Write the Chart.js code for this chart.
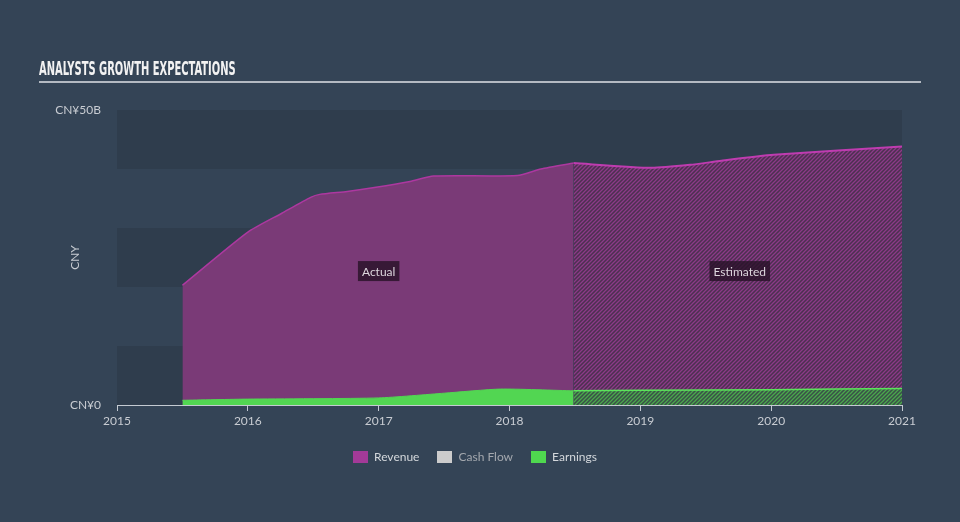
<!DOCTYPE html>
<html>
<head>
<meta charset="utf-8">
<script src="https://cdn.jsdelivr.net/npm/chart.js@4"></script>
<style>
  html, body { margin: 0; padding: 0; background: #344456; width: 960px; height: 522px; overflow: hidden; }
  #title { position: absolute; left: 39px; top: 57px; color: #f2f2f2; font-family: "Liberation Sans Narrow", "DejaVu Sans Condensed", sans-serif; font-weight: bold; font-size: 19px; white-space: nowrap; transform-origin: 0 0; }
  #rule { position: absolute; left: 39px; top: 81px; width: 882px; height: 2px; background: #b4bac2; }
  #wrap { position: absolute; left: 0; top: 0; width: 960px; height: 522px; }
  #legend { position: absolute; top: 449px; left: -5px; width: 960px; text-align: center; font-family: Lato, "DejaVu Sans", sans-serif; font-size: 12px; }
  .item { display: inline-block; margin: 0 9px; line-height: 14px; }
  .box { display: inline-block; width: 15px; height: 12px; vertical-align: -2px; margin-right: 6px; }
</style>
</head>
<body>
<div id="wrap"><canvas id="chart" width="960" height="522"></canvas></div>
<div id="title">ANALYSTS GROWTH EXPECTATIONS</div>
<div id="rule"></div>
<div id="legend"></div>
<script>
// values in CNY billions, x is fractional year
const revenueYears = [2015.5, 2016.0, 2016.26, 2016.48, 2016.55, 2016.76, 2016.98, 2017.24, 2017.42, 2018.06, 2018.24, 2018.49, 2019.08, 2019.38, 2019.62, 2020.02, 2021.0];
const revenueValues = [20.3, 29.3, 32.5, 35.2, 35.7, 36.2, 36.9, 37.9, 38.8, 38.9, 40.0, 41.0, 40.2, 40.7, 41.4, 42.4, 43.8];
const earningsYears = [2015.5, 2016.0, 2017.0, 2017.5, 2017.93, 2018.49, 2019.0, 2020.0, 2021.0];
const earningsValues = [0.8, 1.0, 1.2, 2.0, 2.7, 2.4, 2.5, 2.6, 2.8];
const forecastStart = 2018.49;
const yearTicks = [2015, 2016, 2017, 2018, 2019, 2020, 2021];
const seriesNames = ["Revenue", "Cash Flow", "Earnings"];
const seriesColors = ["#a33a98", "#cccccc", "#4fd84f"];

// squeeze the title into the condensed look
const t = document.getElementById("title");
t.style.transform = "scaleX(" + (197 / t.offsetWidth) + ")";

// legend
const legendColors = ["#d4d8dc", "#a4a8ae", "#d4d8dc"];
document.getElementById("legend").innerHTML = seriesNames.map((n, i) =>
  '<span class="item" style="color:' + legendColors[i] + '"><span class="box" style="background:' + seriesColors[i] + '"></span>' + n + '</span>'
).join("");

function points(xs, ys, keep) {
  const out = [];
  xs.forEach((x, i) => { if (keep(x)) out.push({ x: x, y: ys[i] }); });
  return out;
}

function hatch(bg, fg) {
  const c = document.createElement("canvas");
  c.width = 4; c.height = 4;
  const g = c.getContext("2d");
  g.fillStyle = bg;
  g.fillRect(0, 0, 4, 4);
  g.strokeStyle = fg;
  g.lineWidth = 1.3;
  g.beginPath();
  g.moveTo(0, 4); g.lineTo(4, 0);
  g.moveTo(-1, 1); g.lineTo(1, -1);
  g.moveTo(3, 5); g.lineTo(5, 3);
  g.stroke();
  return g.createPattern(c, "repeat");
}

const bandPlugin = {
  id: "bands",
  beforeDraw(chart) {
    const { ctx, chartArea, scales } = chart;
    ctx.save();
    ctx.fillStyle = "#2f3d4d";
    [[0, 10], [20, 30], [40, 50]].forEach(b => {
      const y1 = scales.y.getPixelForValue(b[1]);
      const y0 = scales.y.getPixelForValue(b[0]);
      ctx.fillRect(chartArea.left, y1, chartArea.right - chartArea.left, y0 - y1);
    });
    ctx.restore();
  }
};

const tagPlugin = {
  id: "tags",
  afterDatasetsDraw(chart) {
    const { ctx, scales } = chart;
    ctx.save();
    ctx.font = "12px Lato, 'DejaVu Sans', sans-serif";
    ctx.textAlign = "center";
    ctx.textBaseline = "middle";
    [["Actual", 2017.0], ["Estimated", 2019.76]].forEach(a => {
      const x = scales.x.getPixelForValue(a[1]);
      const y = scales.y.getPixelForValue(22.7);
      const w = ctx.measureText(a[0]).width + 8;
      ctx.fillStyle = "rgba(40,18,40,0.82)";
      ctx.fillRect(x - w / 2, y - 10, w, 20);
      ctx.fillStyle = "#ddd6dd";
      ctx.fillText(a[0], x, y + 1);
    });
    ctx.restore();
  }
};

const tickFont = { family: "Lato, 'DejaVu Sans', sans-serif", size: 12 };

const ctx = document.getElementById("chart").getContext("2d");
const chart = new Chart(ctx, {
  type: "line",
  data: {
    datasets: [
      {
        label: "Earnings",
        data: points(earningsYears, earningsValues, x => x <= forecastStart),
        borderColor: "#52d652",
        backgroundColor: "#52d652",
        borderWidth: 1,
        fill: "origin",
        pointRadius: 0,
        tension: 0.2,
        order: 0
      },
      {
        label: "Earnings estimate",
        data: points(earningsYears, earningsValues, x => x >= forecastStart),
        borderColor: "#5ce45c",
        backgroundColor: hatch("#3a5048", "#4aa84c"),
        borderWidth: 1.5,
        fill: "origin",
        pointRadius: 0,
        tension: 0.2,
        order: 0
      },
      {
        label: "Revenue",
        data: points(revenueYears, revenueValues, x => x <= forecastStart),
        borderColor: "#ad38a0",
        backgroundColor: "#7a3a77",
        borderWidth: 1.5,
        fill: "origin",
        pointRadius: 0,
        tension: 0.2,
        order: 1
      },
      {
        label: "Revenue estimate",
        data: points(revenueYears, revenueValues, x => x >= forecastStart),
        borderColor: "#bf3cb0",
        backgroundColor: hatch("#4c3050", "#8c3a88"),
        borderWidth: 2,
        fill: "origin",
        pointRadius: 0,
        tension: 0.2,
        order: 1
      }
    ]
  },
  options: {
    responsive: false,
    animation: false,
    layout: { padding: { left: 0, right: 58, top: 110, bottom: 87 } },
    plugins: { legend: { display: false }, tooltip: { enabled: false } },
    scales: {
      x: {
        type: "linear",
        min: 2015,
        max: 2021,
        afterBuildTicks: s => { s.ticks = yearTicks.map(v => ({ value: v })); },
        afterFit: s => { s.height = 30; },
        grid: { drawOnChartArea: false, color: "#c4cad2", tickLength: 6 },
        border: { color: "#c4cad2" },
        ticks: {
          color: "#c8ccd2",
          padding: 3,
          font: tickFont,
          callback: v => String(v)
        }
      },
      y: {
        min: 0,
        max: 50,
        afterBuildTicks: s => { s.ticks = [{ value: 0 }, { value: 50 }]; },
        afterFit: s => { s.width = 117; },
        grid: { display: false },
        border: { display: false },
        title: {
          display: true,
          text: "CNY",
          color: "#c8ccd2",
          font: tickFont,
          padding: { top: 68, bottom: 4 }
        },
        ticks: {
          color: "#c8ccd2",
          padding: 8,
          font: tickFont,
          callback: v => v === 0 ? "CN¥0" : "CN¥" + v + "B"
        }
      }
    }
  },
  plugins: [bandPlugin, tagPlugin]
});
</script>
</body>
</html>
